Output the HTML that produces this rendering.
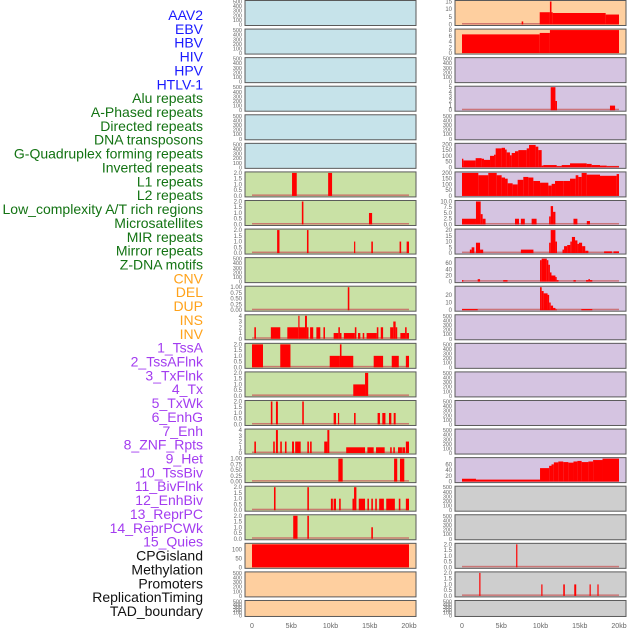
<!DOCTYPE html>
<html><head><meta charset="utf-8"><style>
body{margin:0;background:#fff;width:630px;height:630px;overflow:hidden}
svg{font-family:"Liberation Sans",sans-serif}
</style></head><body>
<svg id="c" width="630" height="630" viewBox="0 0 630 630" xmlns="http://www.w3.org/2000/svg"></svg>
<script>
const labels=["AAV2","EBV","HBV","HIV","HPV","HTLV-1","Alu repeats","A-Phased repeats","Directed repeats","DNA transposons","G-Quadruplex forming repeats","Inverted repeats","L1 repeats","L2 repeats","Low_complexity A/T rich regions","Microsatellites","MIR repeats","Mirror repeats","Z-DNA motifs","CNV","DEL","DUP","INS","INV","1_TssA","2_TssAFlnk","3_TxFlnk","4_Tx","5_TxWk","6_EnhG","7_Enh","8_ZNF_Rpts","9_Het","10_TssBiv","11_BivFlnk","12_EnhBiv","13_ReprPC","14_ReprPCWk","15_Quies","CPGisland","Methylation","Promoters","ReplicationTiming","TAD_boundary"];
const labelGroups=[6,13,5,15,5];
const groupColors=["#1a1aff","#137313","#ffa21a","#a33cf0","#111111"];
const leftColors=["b","b","b","b","b","b","g","g","g","g","g","g","g","g","g","g","g","g","g","o","o","o"];
const rightColors=["o","o","p","p","p","p","p","p","p","p","p","p","p","p","p","p","p","y","y","y","y","y"];
const leftMax=[500,500,500,500,500,500,2,2,2,500,1,4,2,2,2,4,1,2,2,130,500,500];
const rightMax=[15,8,500,5,500,200,200,10,20,75,30,500,500,500,500,500,80,500,500,2,2,500];
const leftTicks=[null,null,null,null,null,null,[0,0.5,1,1.5,2],[0,0.5,1,1.5,2],[0,0.5,1,1.5,2],null,[0,0.25,0.5,0.75,1],[0,1,2,3,4],[0,0.5,1,1.5,2],[0,0.5,1,1.5,2],[0,0.5,1,1.5,2],[0,1,2,3,4],[0,0.25,0.5,0.75,1],[0,0.5,1,1.5,2],[0,0.5,1,1.5,2],[0,50,100],null,null];
const rightTicks=[[0,5,10,15],[0,2,4,6,8],null,[0,1,2,3,4,5],null,[0,50,100,150,200],[0,50,100,150,200],[0,2.5,5,7.5,10],[0,5,10,15,20],[0,20,40,60],[0,10,20],null,null,null,null,null,[0,20,40,60],null,null,[0,0.5,1,1.5,2],[0,0.5,1,1.5,2],null];
const leftData=[[],[],[],[],[],[],
[[5.1,5.7,2],[9.7,10.2,2]],
[[6.35,6.55,2],[14.9,15.3,1]],
[[3.2,3.5,2],[7.0,7.2,2],[13.0,13.15,1],[15.2,15.4,1],[18.8,19.0,1],[19.7,20,1]],
[],
[[12.2,12.4,1]],
[[0.3,0.5,2],[2.4,3.6,2],[4.5,5.9,2],[5.9,6.0,4],[6.0,6.75,2],[6.75,7.0,4],[7.0,7.2,2],[7.4,7.8,2],[8.2,8.7,2],[9.1,9.3,2],[10.4,11.0,1],[11.0,11.2,2],[11.2,11.4,1],[11.7,13.1,1],[13.1,13.3,2],[13.5,13.8,1],[14.1,14.3,1],[14.6,15.9,1],[15.9,16.1,2],[16.4,16.7,2],[17.6,18.0,2],[18.0,18.3,3],[18.3,18.5,2],[18.9,19.5,1],[19.5,19.7,2],[19.7,20,1]],
[[0,1.4,2],[3.6,4.9,2],[9.9,11.2,1],[11.2,11.4,2],[11.4,12.9,1],[15.5,16.7,1],[17.8,18.7,1],[19.6,20,1]],
[[12.9,14.4,1],[14.4,14.8,2]],
[[2.4,2.6,2],[3.05,3.3,2],[6.4,6.6,2],[10.4,10.7,1],[10.95,11.1,1],[13.0,13.2,1],[16.0,16.3,1],[16.6,17.0,1],[17.45,17.75,1],[18.05,18.3,1]],
[[0.3,0.5,2],[2.7,2.9,2],[3.05,3.3,4],[3.6,3.8,2],[4.2,4.4,2],[5.1,5.35,2],[5.5,6.2,2],[7.05,7.25,2],[7.4,7.6,2],[9.2,9.6,2],[9.6,9.85,4],[12.0,14.4,1],[14.7,15.5,1],[15.8,16.9,1],[17.6,17.8,1],[18.0,18.2,1],[18.6,19.1,1],[19.15,19.5,1],[19.6,20,2]],
[[11.0,11.55,1],[18.1,18.5,1],[18.85,19.4,1]],
[[2.8,3.0,2],[7.05,7.25,2],[10.05,10.3,1],[10.4,10.7,1],[11.1,11.3,1],[12.8,13.0,1],[13.0,13.3,2],[13.6,14.4,1],[14.7,14.9,1],[15.2,15.4,1],[15.7,15.9,1],[16.2,16.8,1],[17.1,18.2,1],[18.7,18.9,1],[19.6,20,1]],
[[5.25,5.8,2],[7.05,7.25,2],[15.2,15.4,1]],
[[0,20,130]],
[],[]];
const rightData=[
[[7.6,7.8,2],[9.9,11.2,8],[11.2,11.4,15],[11.4,11.55,8],[11.55,18.3,7.5],[18.3,20,6.5]],
[[0,9.9,6.5],[9.9,11.2,7],[11.2,20,8]],
[],
[[11.3,11.9,5],[11.9,12.1,2],[18.85,19.5,1]],
[],
[[0,0.17,75],[0.17,1.74,60],[1.74,2.5,80],[2.5,2.8,75],[2.8,3.57,65],[3.57,4.08,100],[4.08,4.29,110],[4.29,5.05,165],[5.05,5.48,170],[5.48,5.69,155],[5.69,6.11,130],[6.11,6.33,105],[6.33,6.75,125],[6.75,7.18,140],[7.18,8.24,150],[8.24,8.54,165],[8.54,9.38,195],[9.38,9.72,180],[9.72,10.15,150],[10.15,10.36,15],[10.36,12.06,20],[12.06,12.7,10],[12.7,13.76,20],[13.76,15.88,35],[15.88,16.52,30],[16.52,17.58,20],[17.58,18.43,15],[18.43,20,10]],
[[0,2.08,200],[2.08,3.35,180],[3.35,4.42,200],[4.42,5.05,180],[5.05,5.48,160],[5.48,5.82,150],[5.82,6.45,110],[6.45,7.09,100],[7.09,7.81,140],[7.81,8.45,165],[8.45,9.09,160],[9.09,9.94,130],[9.94,11.0,115],[11.0,11.42,90],[11.42,11.85,105],[11.85,12.9,130],[12.9,13.76,130],[13.76,14.48,150],[14.48,14.82,180],[14.82,15.24,165],[15.24,15.88,200],[15.88,17.58,185],[17.58,19.7,175],[19.7,20,190]],
[[0,1.78,2.5],[1.78,2.38,10],[2.38,2.63,4.5],[2.63,3.0,2.5],[6.75,7.26,2.5],[7.5,8.0,2.5],[8.87,9.5,2.5],[11.1,11.3,3.5],[11.3,11.6,8],[11.6,11.9,5.5],[14.2,14.7,2.5],[15.9,16.3,1.5]],
[[1.0,1.23,3],[1.23,1.57,5],[1.78,2.3,9],[2.3,2.7,3],[7.5,9.1,3],[11.1,11.3,9],[11.3,11.9,20],[11.9,12.1,10],[12.8,13.0,3],[13.0,13.4,6],[13.4,13.8,7],[13.8,14.0,10],[14.0,14.4,14],[14.4,14.7,11],[14.7,14.9,8],[14.9,15.3,9],[15.3,15.7,6],[15.7,16.1,2],[18.1,19.1,1.5],[19.3,20,1.5]],
[[0,0.17,5],[2.0,2.3,8],[5.25,5.8,5],[9.94,10.15,70],[10.15,10.8,75],[10.8,11.0,70],[11.0,11.2,55],[11.2,11.4,30],[11.4,11.9,20],[11.9,12.06,15],[12.06,12.3,5],[14.2,14.5,5],[15.8,16.1,5],[16.1,16.3,8],[16.3,16.6,5]],
[[0,2.0,1.5],[9.94,10.15,30],[10.15,10.4,25],[10.4,10.9,22],[10.9,11.1,20],[11.1,11.3,10],[11.3,11.6,6],[11.6,11.9,3],[11.9,12.1,1],[15.2,16.6,1.5]],
[],[],[],[],[],
[[0,1.78,10],[1.78,9.94,7],[9.94,11.1,47],[11.1,11.4,55],[11.4,11.7,60],[11.7,12.27,67],[12.27,12.9,70],[12.9,13.55,68],[13.55,14.2,66],[14.2,14.7,70],[14.7,15.24,72],[15.24,16.1,68],[16.1,16.7,70],[16.7,17.9,75],[17.9,20,80]],
[],[],
[[6.9,7.05,2]],
[[2.2,2.35,2],[10.1,10.25,1],[12.9,13.1,1],[14.3,14.55,1],[16.25,16.4,1],[17.25,17.4,1]],
[]];
const xTicks=[0,5,10,15,20];
const xTickLabels=["0","5kb","10kb","15kb","20kb"];

const NS="http://www.w3.org/2000/svg";
const svg=document.getElementById('c');
const fill={b:"#c6e3ea",g:"#c9e1a5",o:"#fecf9f",p:"#d5c4e1",y:"#cecece"};
function mk(t,a,p){const e=document.createElementNS(NS,t);for(const k in a)e.setAttribute(k,a[k]);(p||svg).appendChild(e);return e;}
// labels
let li=0;
labelGroups.forEach((n,g)=>{for(let k=0;k<n;k++){const t=mk('text',{x:203,y:20+li*13.86,'text-anchor':'end','font-size':14,fill:groupColors[g]});t.textContent=labels[li];


li++;}});
const ROW=28.57;
function xs(px,kb){return px+7+kb*7.85;}
function fmt(v){return String(v);}
function panel(col,i,color,ymax,ticks,data){
  const px=col?455:245, w=171;
  const top=i*ROW+0.5, h=(i===21)?16:25;
  const g=mk('g',{});
  
  
  mk('rect',{x:px,y:top,width:w,height:h,fill:fill[color],stroke:'#5a5a5a','stroke-width':1},g);
  const bot=top+h-1, ph=h-2;
  const ys=v=>bot-v/ymax*ph;
  const tk=ticks||[0,100,200,300,400,500];
  tk.forEach(v=>{const t=mk('text',{x:px-3,y:ys(v)+2,'text-anchor':'end','font-size':ticks?6:5.5,fill:'#666'},g);
    t.textContent=(ticks&&ticks.some(q=>q%1!==0))?(ticks[1]===0.25?v.toFixed(2):v.toFixed(1)):fmt(v);});
  if(data.length){
    mk('rect',{x:xs(px,0),y:bot-1.5,width:20*7.85,height:1.5,fill:'#c86060',opacity:0.8},g);
  }
  data.forEach(d=>{const y=ys(d[2]);const r=mk('rect',{x:xs(px,d[0]),y:y,width:Math.max(1.2,(d[1]-d[0])*7.85),height:bot-y,fill:'#ff0000'},g);
    
    });
}
for(let i=0;i<22;i++){panel(0,i,leftColors[i],leftMax[i],leftTicks[i],leftData[i]);panel(1,i,rightColors[i],rightMax[i],rightTicks[i],rightData[i]);}
[245,455].forEach(px=>{xTicks.forEach((v,j)=>{const t=mk('text',{x:xs(px,v),y:628,'text-anchor':'middle','font-size':7,fill:'#666'});t.textContent=xTickLabels[j];

});});
</script>
</body></html>
